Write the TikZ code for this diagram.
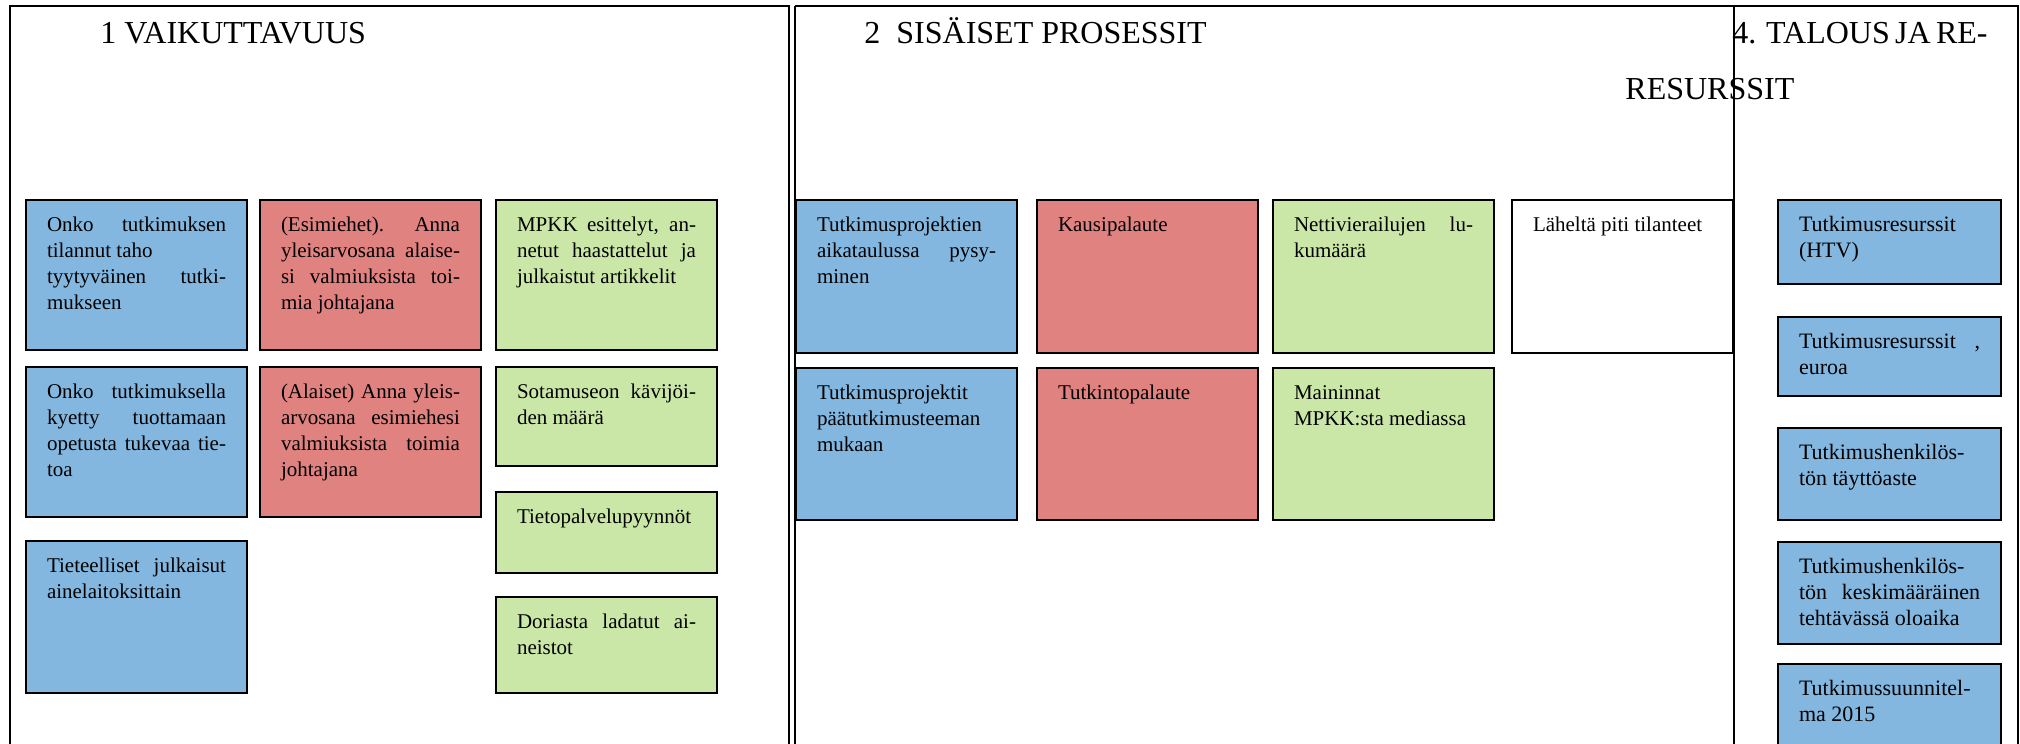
\documentclass[tikz,border=0pt]{standalone}
\usepackage{fontspec}
\setmainfont{Liberation Serif}
\usetikzlibrary{positioning}
\definecolor{cellblue}{RGB}{131,183,223}
\definecolor{cellred}{RGB}{224,130,128}
\definecolor{cellgreen}{RGB}{203,231,168}
\tikzset{
  cell/.style={draw, line width=1pt, anchor=north west, inner xsep=10.5pt, inner ysep=0pt,
    outer sep=0pt, text width=89.5pt, align=justify, text height=15.5pt, text depth=#1,
    font=\fontsize{10.5pt}{13pt}\selectfont},
  cell/.default=59.5pt,
  bcell/.style={cell=#1, fill=cellblue}, bcell/.default=59.5pt,
  rcell/.style={cell=#1, fill=cellred}, rcell/.default=59.5pt,
  gcell/.style={cell=#1, fill=cellgreen}, gcell/.default=59.5pt,
  rescell/.style={bcell=#1, text width=90.5pt, font=\fontsize{11pt}{13pt}\selectfont},
  heading/.style={anchor=base west, inner sep=0pt, font=\fontsize{16pt}{18pt}\selectfont},
  panel/.style={line width=1.2pt},
  thinpanel/.style={line width=0.8pt},
}

\begin{document}
\begin{tikzpicture}[x=0.5pt, y=-0.5pt]
    \clip (0,0) rectangle (2020,744);
    \node[heading] (t1) at (100,43) {1 VAIKUTTAVUUS};
    \node[heading] (t2) at (864,43) {2\ \ SISÄISET PROSESSIT};
    \node[heading] (t4) at (1732,43) {\makebox[122.5pt][s]{4. TALOUS JA RE-}};
    \node[heading] (t4b) at (1625,99) {RESURSSIT};
    % 1 vaikuttavuus
    \node[bcell] (a1) at (26,200) {Onko tutkimuksen\linebreak tilannut taho\\ tyytyväinen tutki-\linebreak mukseen};
    \node[bcell, below=8.5pt of a1] (a2) {Onko tutkimuksella\linebreak kyetty tuottamaan\linebreak opetusta tukevaa tie-\linebreak toa};
    \node[bcell=60.5pt, below=12pt of a2] (a3) {Tieteelliset julkaisut\linebreak ainelaitoksittain};
    \node[rcell, right=6.5pt of a1] (b1) {(Esimiehet). Anna\linebreak yleisarvosana alaise-\linebreak si valmiuksista toi-\linebreak mia johtajana};
    \node[rcell, below=8.5pt of b1] (b2) {(Alaiset) Anna yleis-\linebreak arvosana esimiehesi\linebreak valmiuksista toimia\linebreak johtajana};
    \node[gcell, right=7.5pt of b1] (c1) {MPKK esittelyt, an-\linebreak netut haastattelut ja\linebreak julkaistut artikkelit};
    \node[gcell=34pt, below=8.5pt of c1] (c2) {Sotamuseon kävijöi-\linebreak den määrä};
    \node[gcell=25pt, below=13pt of c2] (c3) {Tietopalvelupyynnöt};
    \node[gcell=32.5pt, below=12pt of c3] (c4) {Doriasta ladatut ai-\linebreak neistot};
    % 2 sisaiset prosessit
    \node[bcell=61pt] (d1) at (796,200) {Tutkimusprojektien\\ aikataulussa pysy-\linebreak minen};
    \node[bcell=60.5pt, below=7.5pt of d1] (d2) {Tutkimusprojektit\\ päätutkimusteeman\\ mukaan};
    \node[rcell=61pt, right=10pt of d1] (e1) {Kausipalaute};
    \node[rcell=60.5pt, below=7.5pt of e1] (e2) {Tutkintopalaute};
    \node[gcell=61pt, right=7.5pt of e1] (f1) {Nettivierailujen lu-\linebreak kumäärä};
    \node[gcell=60.5pt, below=7.5pt of f1] (f2) {Maininnat\\ MPKK:sta mediassa};
    \node[cell=61pt, line width=0.8pt, fill=white, right=9pt of f1] (g1) {Läheltä piti tilanteet};
    % 4 talous ja resurssit
    \node[rescell=26.5pt] (h1) at (1778,200) {Tutkimusresurssit\\ (HTV)};
    \node[rescell=24pt, below=16.5pt of h1] (h2) {Tutkimusresurssit ,\linebreak euroa};
    \node[rescell=30.5pt, below=16pt of h2] (h3) {Tutkimushenkilös-\\ tön täyttöaste};
    \node[rescell=35.5pt, below=11pt of h3] (h4) {Tutkimushenkilös-\\ tön keskimääräinen\linebreak tehtävässä oloaika};
    \node[rescell=34.5pt, below=10pt of h4] (h5) {Tutkimussuunnitel-\\ ma 2015};
    % panels
    \draw[panel] (10,744) |- (789,6) -- (789,744);
    \draw[panel] (795,744) -- (795,6);
    \draw[thinpanel] (795,6) -- (2018,6) -- (2018,744);
    \draw[thinpanel] (1734,6) -- (1734,744);
  \end{tikzpicture}
\end{document}
